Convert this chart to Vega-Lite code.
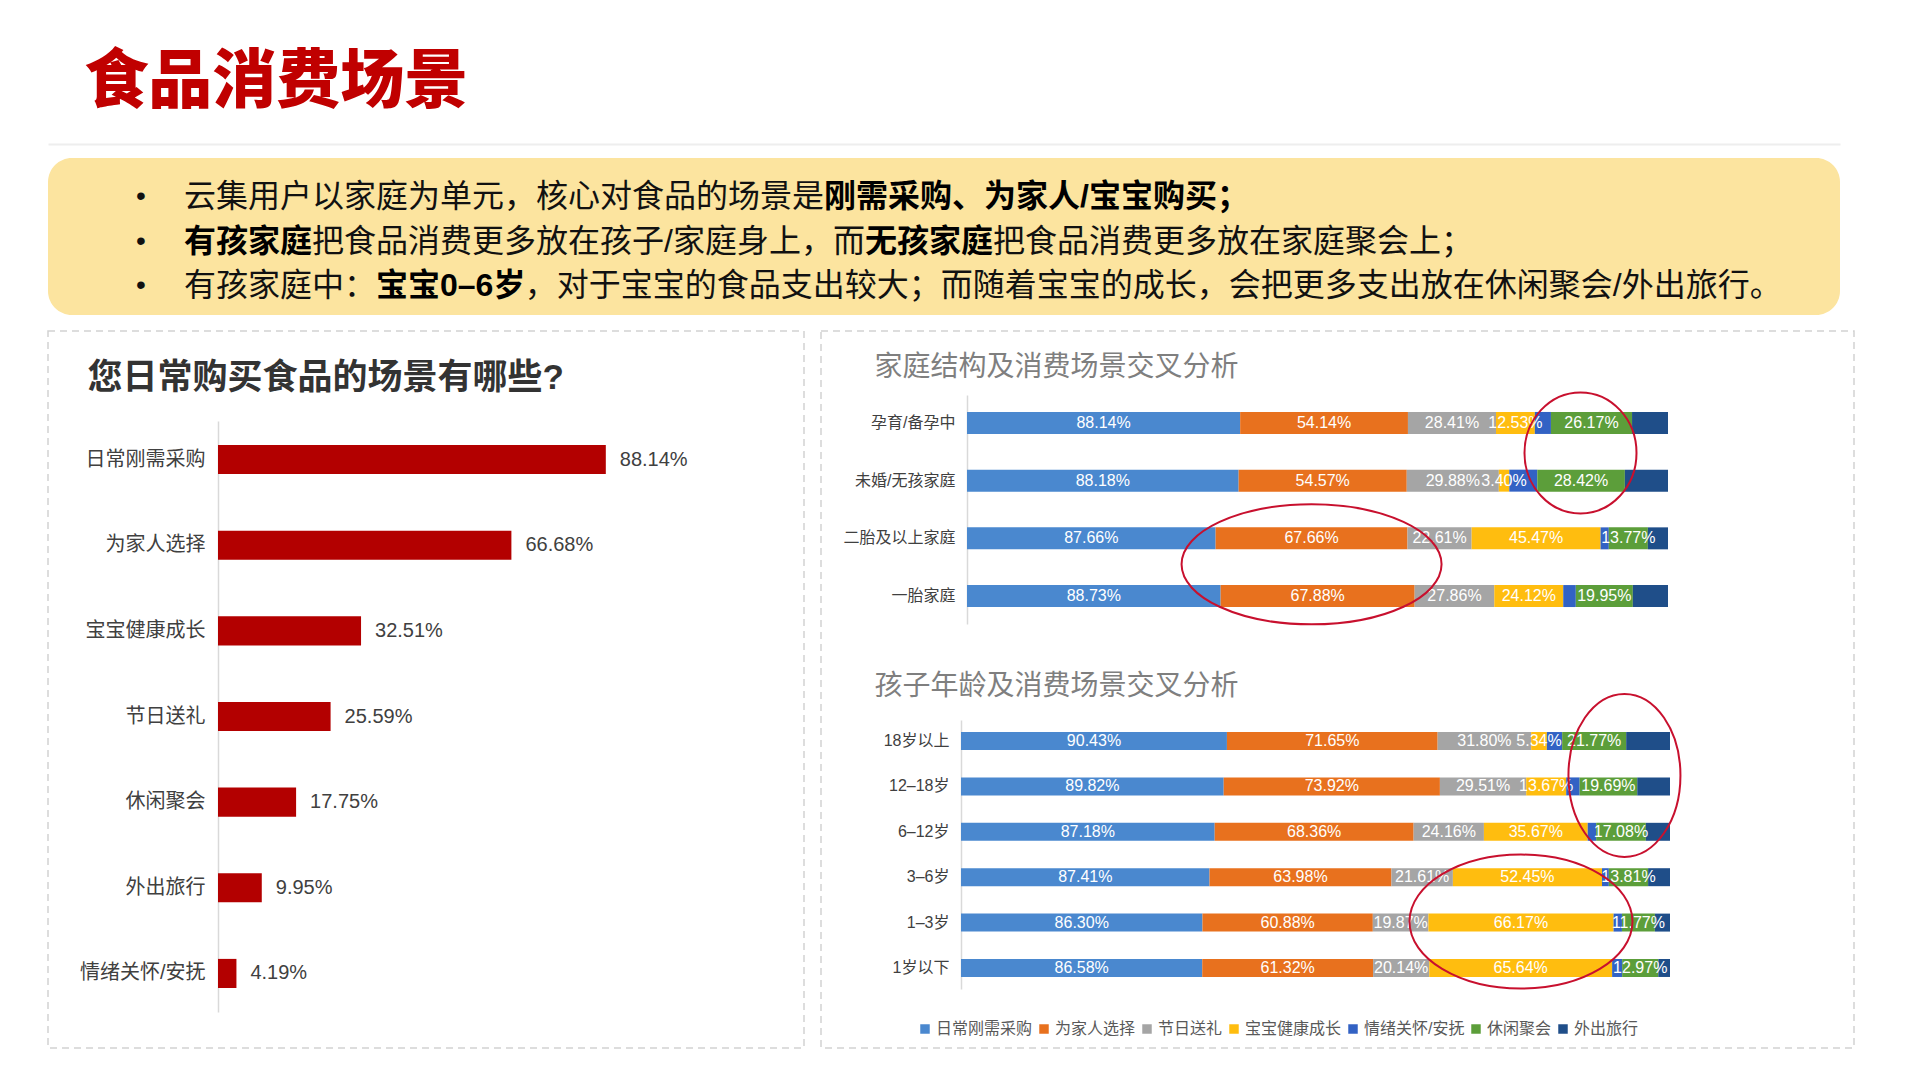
{
  "$schema": "https://vega.github.io/schema/vega-lite/v6.json",
  "background": "white",
  "padding": {"left": 47, "top": 51, "right": 0, "bottom": 0},
  "title": {"text": "食品消费场景", "anchor": "start", "fontSize": 64, "font": "Noto Sans CJK SC", "fontWeight": 900, "color": "#C00000", "dx": 37, "offset": 29},
  "config": {"font": "Liberation Sans, Noto Sans CJK SC", "view": {"stroke": null}},
  "spacing": 15,
  "datasets": {
    "notes": [
      {"ln": 1, "seg": 1, "t": "云集用户以家庭为单元，核心对食品的场景是", "em": false},
      {"ln": 1, "seg": 2, "t": "刚需采购、为家人/宝宝购买；", "em": true},
      {"ln": 2, "seg": 1, "t": "有孩家庭", "em": true},
      {"ln": 2, "seg": 2, "t": "把食品消费更多放在孩子/家庭身上，而", "em": false},
      {"ln": 2, "seg": 3, "t": "无孩家庭", "em": true},
      {"ln": 2, "seg": 4, "t": "把食品消费更多放在家庭聚会上；", "em": false},
      {"ln": 3, "seg": 1, "t": "有孩家庭中：", "em": false},
      {"ln": 3, "seg": 2, "t": "宝宝0–6岁", "em": true},
      {"ln": 3, "seg": 3, "t": "，对于宝宝的食品支出较大；而随着宝宝的成长，会把更多支出放在休闲聚会/外出旅行。", "em": false}
    ],
    "overall": [
      {"s": "日常刚需采购", "v": 88.14},
      {"s": "为家人选择", "v": 66.68},
      {"s": "宝宝健康成长", "v": 32.51},
      {"s": "节日送礼", "v": 25.59},
      {"s": "休闲聚会", "v": 17.75},
      {"s": "外出旅行", "v": 9.95},
      {"s": "情绪关怀/安抚", "v": 4.19}
    ],
    "fam": [
      {"g": "孕育/备孕中", "s": "日常刚需采购", "v": 88.14},
      {"g": "孕育/备孕中", "s": "为家人选择", "v": 54.14},
      {"g": "孕育/备孕中", "s": "节日送礼", "v": 28.41},
      {"g": "孕育/备孕中", "s": "宝宝健康成长", "v": 12.53},
      {"g": "孕育/备孕中", "s": "情绪关怀/安抚", "v": 5.2},
      {"g": "孕育/备孕中", "s": "休闲聚会", "v": 26.17},
      {"g": "孕育/备孕中", "s": "外出旅行", "v": 11.6},
      {"g": "未婚/无孩家庭", "s": "日常刚需采购", "v": 88.18},
      {"g": "未婚/无孩家庭", "s": "为家人选择", "v": 54.57},
      {"g": "未婚/无孩家庭", "s": "节日送礼", "v": 29.88},
      {"g": "未婚/无孩家庭", "s": "宝宝健康成长", "v": 3.40},
      {"g": "未婚/无孩家庭", "s": "情绪关怀/安抚", "v": 9.1},
      {"g": "未婚/无孩家庭", "s": "休闲聚会", "v": 28.42},
      {"g": "未婚/无孩家庭", "s": "外出旅行", "v": 14.0},
      {"g": "二胎及以上家庭", "s": "日常刚需采购", "v": 87.66},
      {"g": "二胎及以上家庭", "s": "为家人选择", "v": 67.66},
      {"g": "二胎及以上家庭", "s": "节日送礼", "v": 22.61},
      {"g": "二胎及以上家庭", "s": "宝宝健康成长", "v": 45.47},
      {"g": "二胎及以上家庭", "s": "情绪关怀/安抚", "v": 2.9},
      {"g": "二胎及以上家庭", "s": "休闲聚会", "v": 13.77},
      {"g": "二胎及以上家庭", "s": "外出旅行", "v": 7.1},
      {"g": "一胎家庭", "s": "日常刚需采购", "v": 88.73},
      {"g": "一胎家庭", "s": "为家人选择", "v": 67.88},
      {"g": "一胎家庭", "s": "节日送礼", "v": 27.86},
      {"g": "一胎家庭", "s": "宝宝健康成长", "v": 24.12},
      {"g": "一胎家庭", "s": "情绪关怀/安抚", "v": 4.4},
      {"g": "一胎家庭", "s": "休闲聚会", "v": 19.95},
      {"g": "一胎家庭", "s": "外出旅行", "v": 12.3}
    ],
    "age": [
      {"g": "18岁以上", "s": "日常刚需采购", "v": 90.43},
      {"g": "18岁以上", "s": "为家人选择", "v": 71.65},
      {"g": "18岁以上", "s": "节日送礼", "v": 31.80},
      {"g": "18岁以上", "s": "宝宝健康成长", "v": 5.34},
      {"g": "18岁以上", "s": "情绪关怀/安抚", "v": 5.2},
      {"g": "18岁以上", "s": "休闲聚会", "v": 21.77},
      {"g": "18岁以上", "s": "外出旅行", "v": 14.9},
      {"g": "12–18岁", "s": "日常刚需采购", "v": 89.82},
      {"g": "12–18岁", "s": "为家人选择", "v": 73.92},
      {"g": "12–18岁", "s": "节日送礼", "v": 29.51},
      {"g": "12–18岁", "s": "宝宝健康成长", "v": 13.67},
      {"g": "12–18岁", "s": "情绪关怀/安抚", "v": 4.6},
      {"g": "12–18岁", "s": "休闲聚会", "v": 19.69},
      {"g": "12–18岁", "s": "外出旅行", "v": 11.2},
      {"g": "6–12岁", "s": "日常刚需采购", "v": 87.18},
      {"g": "6–12岁", "s": "为家人选择", "v": 68.36},
      {"g": "6–12岁", "s": "节日送礼", "v": 24.16},
      {"g": "6–12岁", "s": "宝宝健康成长", "v": 35.67},
      {"g": "6–12岁", "s": "情绪关怀/安抚", "v": 2.9},
      {"g": "6–12岁", "s": "休闲聚会", "v": 17.08},
      {"g": "6–12岁", "s": "外出旅行", "v": 8.3},
      {"g": "3–6岁", "s": "日常刚需采购", "v": 87.41},
      {"g": "3–6岁", "s": "为家人选择", "v": 63.98},
      {"g": "3–6岁", "s": "节日送礼", "v": 21.61},
      {"g": "3–6岁", "s": "宝宝健康成长", "v": 52.45},
      {"g": "3–6岁", "s": "情绪关怀/安抚", "v": 2.4},
      {"g": "3–6岁", "s": "休闲聚会", "v": 13.81},
      {"g": "3–6岁", "s": "外出旅行", "v": 7.7},
      {"g": "1–3岁", "s": "日常刚需采购", "v": 86.30},
      {"g": "1–3岁", "s": "为家人选择", "v": 60.88},
      {"g": "1–3岁", "s": "节日送礼", "v": 19.87},
      {"g": "1–3岁", "s": "宝宝健康成长", "v": 66.17},
      {"g": "1–3岁", "s": "情绪关怀/安抚", "v": 3.0},
      {"g": "1–3岁", "s": "休闲聚会", "v": 11.77},
      {"g": "1–3岁", "s": "外出旅行", "v": 5.4},
      {"g": "1岁以下", "s": "日常刚需采购", "v": 86.58},
      {"g": "1岁以下", "s": "为家人选择", "v": 61.32},
      {"g": "1岁以下", "s": "节日送礼", "v": 20.14},
      {"g": "1岁以下", "s": "宝宝健康成长", "v": 65.64},
      {"g": "1岁以下", "s": "情绪关怀/安抚", "v": 3.6},
      {"g": "1岁以下", "s": "休闲聚会", "v": 12.97},
      {"g": "1岁以下", "s": "外出旅行", "v": 4.2}
    ]
  },
  "vconcat": [
    {
      "width": 1792,
      "height": 157,
      "view": {"fill": "#FCE49F", "cornerRadius": 24, "stroke": null},
      "data": {"name": "notes"},
      "transform": [
        {"calculate": "length(datum.t) - 0.72 * (length(datum.t) - length(replace(datum.t, regexp('/', 'g'), ''))) - 0.45 * (length(datum.t) - length(replace(datum.t, regexp('[ -.0-~–]', 'g'), '')))", "as": "w"},
        {"window": [{"op": "sum", "field": "w", "as": "cw"}], "groupby": ["ln"], "sort": [{"field": "seg", "order": "ascending"}], "frame": [null, 0]},
        {"calculate": "datum.cw - datum.w", "as": "off"}
      ],
      "encoding": {
        "y": {"field": "ln", "type": "ordinal", "scale": {"type": "point", "range": [39, 128], "padding": 0}, "axis": null},
        "x": {"field": "off", "type": "quantitative", "scale": {"domain": [-4.25, 51.75], "nice": false, "zero": false},
              "axis": {"orient": "top", "offset": 14, "domain": true, "domainColor": "#EEEEEE", "domainWidth": 2, "ticks": false, "labels": false, "grid": false, "title": null}}
      },
      "layer": [
        {"transform": [{"filter": "datum.seg === 1"}], "mark": {"type": "text", "text": "•", "fontSize": 28, "align": "center", "baseline": "middle", "dx": -43, "color": "#111111"}},
        {"transform": [{"filter": "!datum.em"}], "mark": {"type": "text", "align": "left", "baseline": "middle", "fontSize": 32, "color": "#111111"}, "encoding": {"text": {"field": "t"}}},
        {"transform": [{"filter": "datum.em"}], "mark": {"type": "text", "align": "left", "baseline": "middle", "fontSize": 32, "fontWeight": "bold", "color": "#000000"}, "encoding": {"text": {"field": "t"}}}
      ]
    },
    {
      "spacing": 15,
      "hconcat": [
        {
          "width": 756,
          "height": 717,
          "view": {"stroke": "#D2D2D2", "strokeDash": [7, 5], "strokeWidth": 1.5},
          "data": {"name": "overall"},
          "transform": [{"calculate": "format(datum.v, '.2f') + '%'", "as": "lbl"}],
          "encoding": {
            "y": {"field": "s", "type": "nominal", "sort": ["日常刚需采购", "为家人选择", "宝宝健康成长", "节日送礼", "休闲聚会", "外出旅行", "情绪关怀/安抚"],
                  "scale": {"range": [90, 681], "paddingInner": 0.66, "paddingOuter": 0.28},
                  "axis": {"orient": "left", "offset": -170, "domainColor": "#D9D9D9", "domainWidth": 1.5, "ticks": false, "tickSize": 0, "labelPadding": 13, "labelFontSize": 20, "labelColor": "#404040",
                           "title": "您日常购买食品的场景有哪些?", "titleAngle": 0, "titleAlign": "left", "titleBaseline": "middle", "titleX": -131, "titleY": 46, "titleFontSize": 35, "titleFontWeight": "bold", "titleColor": "#333333"}},
            "x": {"field": "v", "type": "quantitative", "scale": {"domain": [0, 100], "range": [170, 610], "nice": false}, "axis": null}
          },
          "layer": [
            {"mark": {"type": "bar", "color": "#B30000"}},
            {"mark": {"type": "text", "align": "left", "baseline": "middle", "dx": 14, "fontSize": 20, "color": "#404040"}, "encoding": {"text": {"field": "lbl"}}}
          ]
        },
        {
          "width": 1033,
          "height": 717,
          "view": {"stroke": "#D2D2D2", "strokeDash": [7, 5], "strokeWidth": 1.5},
          "resolve": {"scale": {"x": "independent", "y": "independent"}},
          "layer": [
            {
              "data": {"name": "fam"},
              "transform": [
                {"calculate": "indexof(['日常刚需采购','为家人选择','节日送礼','宝宝健康成长','情绪关怀/安抚','休闲聚会','外出旅行'], datum.s)", "as": "o"},
                {"stack": "v", "groupby": ["g"], "offset": "normalize", "sort": [{"field": "o", "order": "ascending"}], "as": ["x0", "x1"]},
                {"calculate": "(datum.x0 + datum.x1) / 2", "as": "mid"},
                {"calculate": "format(datum.v, '.2f') + '%'", "as": "lbl"}
              ],
              "encoding": {
                "y": {"field": "g", "type": "nominal", "sort": ["孕育/备孕中", "未婚/无孩家庭", "二胎及以上家庭", "一胎家庭"],
                      "scale": {"range": [64, 293], "paddingInner": 0.619, "paddingOuter": 0.294},
                      "axis": {"orient": "left", "offset": -146, "domainColor": "#D9D9D9", "domainWidth": 1.5, "ticks": false, "tickSize": 0, "labelPadding": 12, "labelFontSize": 16, "labelColor": "#404040",
                               "title": "家庭结构及消费场景交叉分析", "titleAngle": 0, "titleAlign": "left", "titleBaseline": "middle", "titleX": -93, "titleY": 36, "titleFontSize": 28, "titleFontWeight": "normal", "titleColor": "#7F7F7F"}}
              },
              "layer": [
                {"mark": {"type": "bar"},
                 "encoding": {
                   "x": {"field": "x0", "type": "quantitative", "scale": {"domain": [0, 1], "range": [146, 847], "nice": false, "zero": false}, "axis": null},
                   "x2": {"field": "x1"},
                   "color": {"field": "s", "type": "nominal",
                             "scale": {"domain": ["日常刚需采购", "为家人选择", "节日送礼", "宝宝健康成长", "情绪关怀/安抚", "休闲聚会", "外出旅行"], "range": ["#4A88CF", "#E8711E", "#A5A5A5", "#FFBD0F", "#3262C4", "#5C9E3A", "#1F4E89"]},
                             "legend": {"orient": "none", "legendX": 869, "legendY": 863, "direction": "horizontal", "columns": 7, "title": null, "symbolType": "square", "symbolSize": 90, "symbolStrokeWidth": 0, "labelFontSize": 16, "labelColor": "#595959", "columnPadding": 3, "labelOffset": 3, "padding": 0, "labelLimit": 300}}
                 }},
                {"transform": [{"filter": "datum.s !== '情绪关怀/安抚' && datum.s !== '外出旅行'"}],
                 "mark": {"type": "text", "color": "#FFFFFF", "fontSize": 16, "baseline": "middle"},
                 "encoding": {"x": {"field": "mid", "type": "quantitative", "axis": null}, "text": {"field": "lbl"}}},
                {"transform": [{"filter": "datum.g === '孕育/备孕中' && datum.s === '休闲聚会'"}],
                 "mark": {"type": "point", "shape": "M -1 0 A 1 1.08 0 0 1 1 0 A 1 1.08 0 0 1 -1 0 Z", "size": 12544, "filled": false, "color": "#C8102E", "strokeWidth": 2, "opacity": 1, "xOffset": -11, "yOffset": 30},
                 "encoding": {"x": {"field": "mid", "type": "quantitative", "axis": null}}},
                {"transform": [{"filter": "datum.g === '二胎及以上家庭' && datum.s === '为家人选择'"}],
                 "mark": {"type": "point", "shape": "M -1 0 A 1 0.4615 0 0 1 1 0 A 1 0.4615 0 0 1 -1 0 Z", "size": 67600, "filled": false, "color": "#C8102E", "strokeWidth": 2, "opacity": 1, "yOffset": 26},
                 "encoding": {"x": {"field": "mid", "type": "quantitative", "axis": null}}}
              ]
            },
            {
              "data": {"name": "age"},
              "transform": [
                {"calculate": "indexof(['日常刚需采购','为家人选择','节日送礼','宝宝健康成长','情绪关怀/安抚','休闲聚会','外出旅行'], datum.s)", "as": "o"},
                {"stack": "v", "groupby": ["g"], "offset": "normalize", "sort": [{"field": "o", "order": "ascending"}], "as": ["x0", "x1"]},
                {"calculate": "(datum.x0 + datum.x1) / 2", "as": "mid"},
                {"calculate": "format(datum.v, '.2f') + '%'", "as": "lbl"}
              ],
              "encoding": {
                "y": {"field": "g", "type": "nominal", "sort": ["18岁以上", "12–18岁", "6–12岁", "3–6岁", "1–3岁", "1岁以下"],
                      "scale": {"range": [389, 658], "paddingInner": 0.604, "paddingOuter": 0.265},
                      "axis": {"orient": "left", "offset": -140, "domainColor": "#D9D9D9", "domainWidth": 1.5, "ticks": false, "tickSize": 0, "labelPadding": 12, "labelFontSize": 16, "labelColor": "#404040",
                               "title": "孩子年龄及消费场景交叉分析", "titleAngle": 0, "titleAlign": "left", "titleBaseline": "middle", "titleX": -87, "titleY": 355, "titleFontSize": 28, "titleFontWeight": "normal", "titleColor": "#7F7F7F"}}
              },
              "layer": [
                {"mark": {"type": "bar"},
                 "encoding": {
                   "x": {"field": "x0", "type": "quantitative", "scale": {"domain": [0, 1], "range": [140, 849], "nice": false, "zero": false}, "axis": null},
                   "x2": {"field": "x1"},
                   "color": {"field": "s", "type": "nominal",
                             "scale": {"domain": ["日常刚需采购", "为家人选择", "节日送礼", "宝宝健康成长", "情绪关怀/安抚", "休闲聚会", "外出旅行"], "range": ["#4A88CF", "#E8711E", "#A5A5A5", "#FFBD0F", "#3262C4", "#5C9E3A", "#1F4E89"]},
                             "legend": {"orient": "none", "legendX": 869, "legendY": 863, "direction": "horizontal", "columns": 7, "title": null, "symbolType": "square", "symbolSize": 90, "symbolStrokeWidth": 0, "labelFontSize": 16, "labelColor": "#595959", "columnPadding": 3, "labelOffset": 3, "padding": 0, "labelLimit": 300}}
                 }},
                {"transform": [{"filter": "datum.s !== '情绪关怀/安抚' && datum.s !== '外出旅行'"}],
                 "mark": {"type": "text", "color": "#FFFFFF", "fontSize": 16, "baseline": "middle"},
                 "encoding": {"x": {"field": "mid", "type": "quantitative", "axis": null}, "text": {"field": "lbl"}}},
                {"transform": [{"filter": "datum.g === '12–18岁' && datum.s === '休闲聚会'"}],
                 "mark": {"type": "point", "shape": "M -1 0 A 1 1.455 0 0 1 1 0 A 1 1.455 0 0 1 -1 0 Z", "size": 12544, "filled": false, "color": "#C8102E", "strokeWidth": 2, "opacity": 1, "xOffset": 16, "yOffset": -11},
                 "encoding": {"x": {"field": "mid", "type": "quantitative", "axis": null}}},
                {"transform": [{"filter": "datum.g === '1–3岁' && datum.s === '宝宝健康成长'"}],
                 "mark": {"type": "point", "shape": "M -1 0 A 1 0.601 0 0 1 1 0 A 1 0.601 0 0 1 -1 0 Z", "size": 49729, "filled": false, "color": "#C8102E", "strokeWidth": 2, "opacity": 1, "yOffset": -1},
                 "encoding": {"x": {"field": "mid", "type": "quantitative", "axis": null}}}
              ]
            }
          ]
        }
      ]
    }
  ]
}
